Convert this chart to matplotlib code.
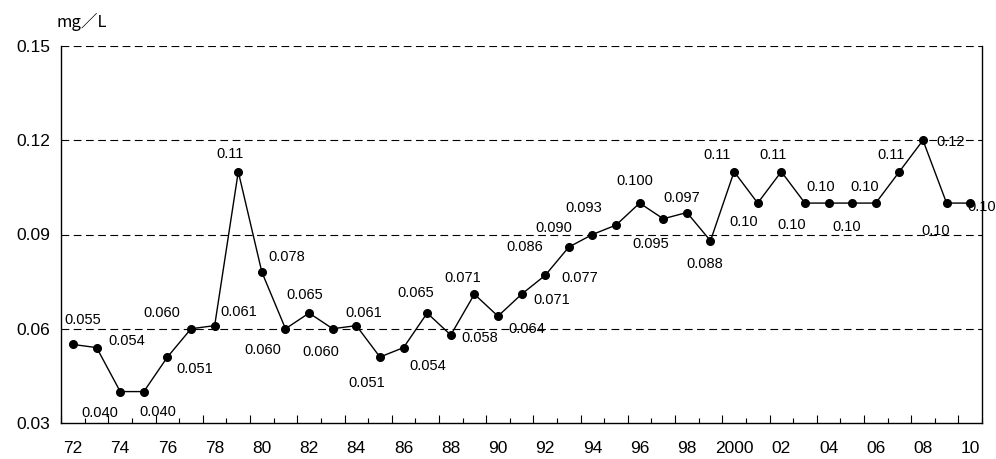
import numpy as np
import matplotlib
matplotlib.use("Agg")
import matplotlib.pyplot as plt
from matplotlib.ticker import FixedLocator, NullFormatter

years = list(range(1972, 2011))
values = [0.055, 0.054, 0.040, 0.040, 0.051, 0.060, 0.061, 0.11, 0.078, 0.060,
          0.065, 0.060, 0.061, 0.051, 0.054, 0.065, 0.058, 0.071, 0.064, 0.071,
          0.077, 0.086, 0.090, 0.093, 0.100, 0.095, 0.097, 0.088, 0.11, 0.10,
          0.11, 0.10, 0.10, 0.10, 0.10, 0.11, 0.12, 0.10, 0.10]
value_labels = ["0.055", "0.054", "0.040", "0.040", "0.051", "0.060", "0.061", "0.11",
                "0.078", "0.060", "0.065", "0.060", "0.061", "0.051", "0.054", "0.065",
                "0.058", "0.071", "0.064", "0.071", "0.077", "0.086", "0.090", "0.093",
                "0.100", "0.095", "0.097", "0.088", "0.11", "0.10", "0.11", "0.10",
                "0.10", "0.10", "0.10", "0.11", "0.12", "0.10", "0.10"]
year_labels = ["72", "74", "76", "78", "80", "82", "84", "86", "88", "90", "92", "94",
               "96", "98", "2000", "02", "04", "06", "08", "10"]
y_ticks = [0.03, 0.06, 0.09, 0.12, 0.15]
y_tick_labels = ["0.03", "0.06", "0.09", "0.12", "0.15"]
unit = "mg／L"

# label offsets in pixels (dx right, dy down) relative to each point
offsets = [(10, -24), (30, -7), (-20, 21), (14, 20), (27, 12), (-29, -16), (24, -14),
           (-8, -18), (25, -15), (-23, 21), (-4, -18), (-12, 23), (7, -13), (-13, 26),
           (24, 18), (-11, -20), (29, 3), (-12, -16), (29, 13), (30, 6), (35, 3),
           (-44, 0), (-39, -6), (-32, -17), (-5, -22), (-13, 25), (-5, -15), (-6, 23),
           (-17, -17), (-14, 19), (-8, -17), (-13, 22), (-8, -16), (-5, 24), (-11, -16),
           (-8, -17), (28, 2), (-11, 28), (11, 4)]

NUM_FONT = ["Liberation Sans", "DejaVu Sans"]

fig = plt.figure(figsize=(9.96, 4.59), dpi=100)
ax = fig.add_axes([61.2 / 996, 36 / 459, (982 - 61.2) / 996, (423 - 46) / 459])

x = np.arange(len(years))
ax.plot(x, values, color="black", linewidth=1.0, marker="o", markersize=5.5,
        markerfacecolor="black", markeredgecolor="black", zorder=3)

for xi, v, lab, (dx, dy) in zip(x, values, value_labels, offsets):
    ax.annotate(lab, (xi, v), textcoords="offset pixels", xytext=(dx, -dy),
                ha="center", va="center", fontsize=10.5, family=NUM_FONT, zorder=4)

# dashed gridlines (top one doubles as the upper frame)
for g in y_ticks[1:]:
    ax.axhline(g, color="black", linewidth=0.8, linestyle=(0, (7, 4)), zorder=1)

ax.set_xlim(-0.5, len(years) - 0.5)
ax.set_ylim(0.03, 0.15)

ax.spines["top"].set_visible(False)
for s in ("left", "right", "bottom"):
    ax.spines[s].set_linewidth(1.0)
    ax.spines[s].set_color("black")

# category axis: tick marks on boundaries, labels every other year
ax.xaxis.set_major_locator(FixedLocator(np.arange(-0.5, len(years), 2)))
ax.xaxis.set_minor_locator(FixedLocator(np.arange(0.5, len(years), 2)))
ax.xaxis.set_major_formatter(NullFormatter())
ax.tick_params(axis="x", which="major", direction="in", length=6, width=0.8)
ax.tick_params(axis="x", which="minor", direction="in", length=3.5, width=0.8)
for xi, lab in zip(x[::2], year_labels):
    ax.text(xi, -0.068, lab, transform=ax.get_xaxis_transform(), ha="center",
            va="center", fontsize=12.5, family=NUM_FONT)

ax.set_yticks(y_ticks)
ax.set_yticklabels(y_tick_labels, fontsize=12.5, family=NUM_FONT)
ax.tick_params(axis="y", length=0, pad=8)

fig.text(82 / 996, 1 - 22 / 459, unit, ha="center", va="center", fontsize=12,
         family=["Noto Sans CJK JP", "DejaVu Sans"])

fig.savefig("out.png", dpi=100)
